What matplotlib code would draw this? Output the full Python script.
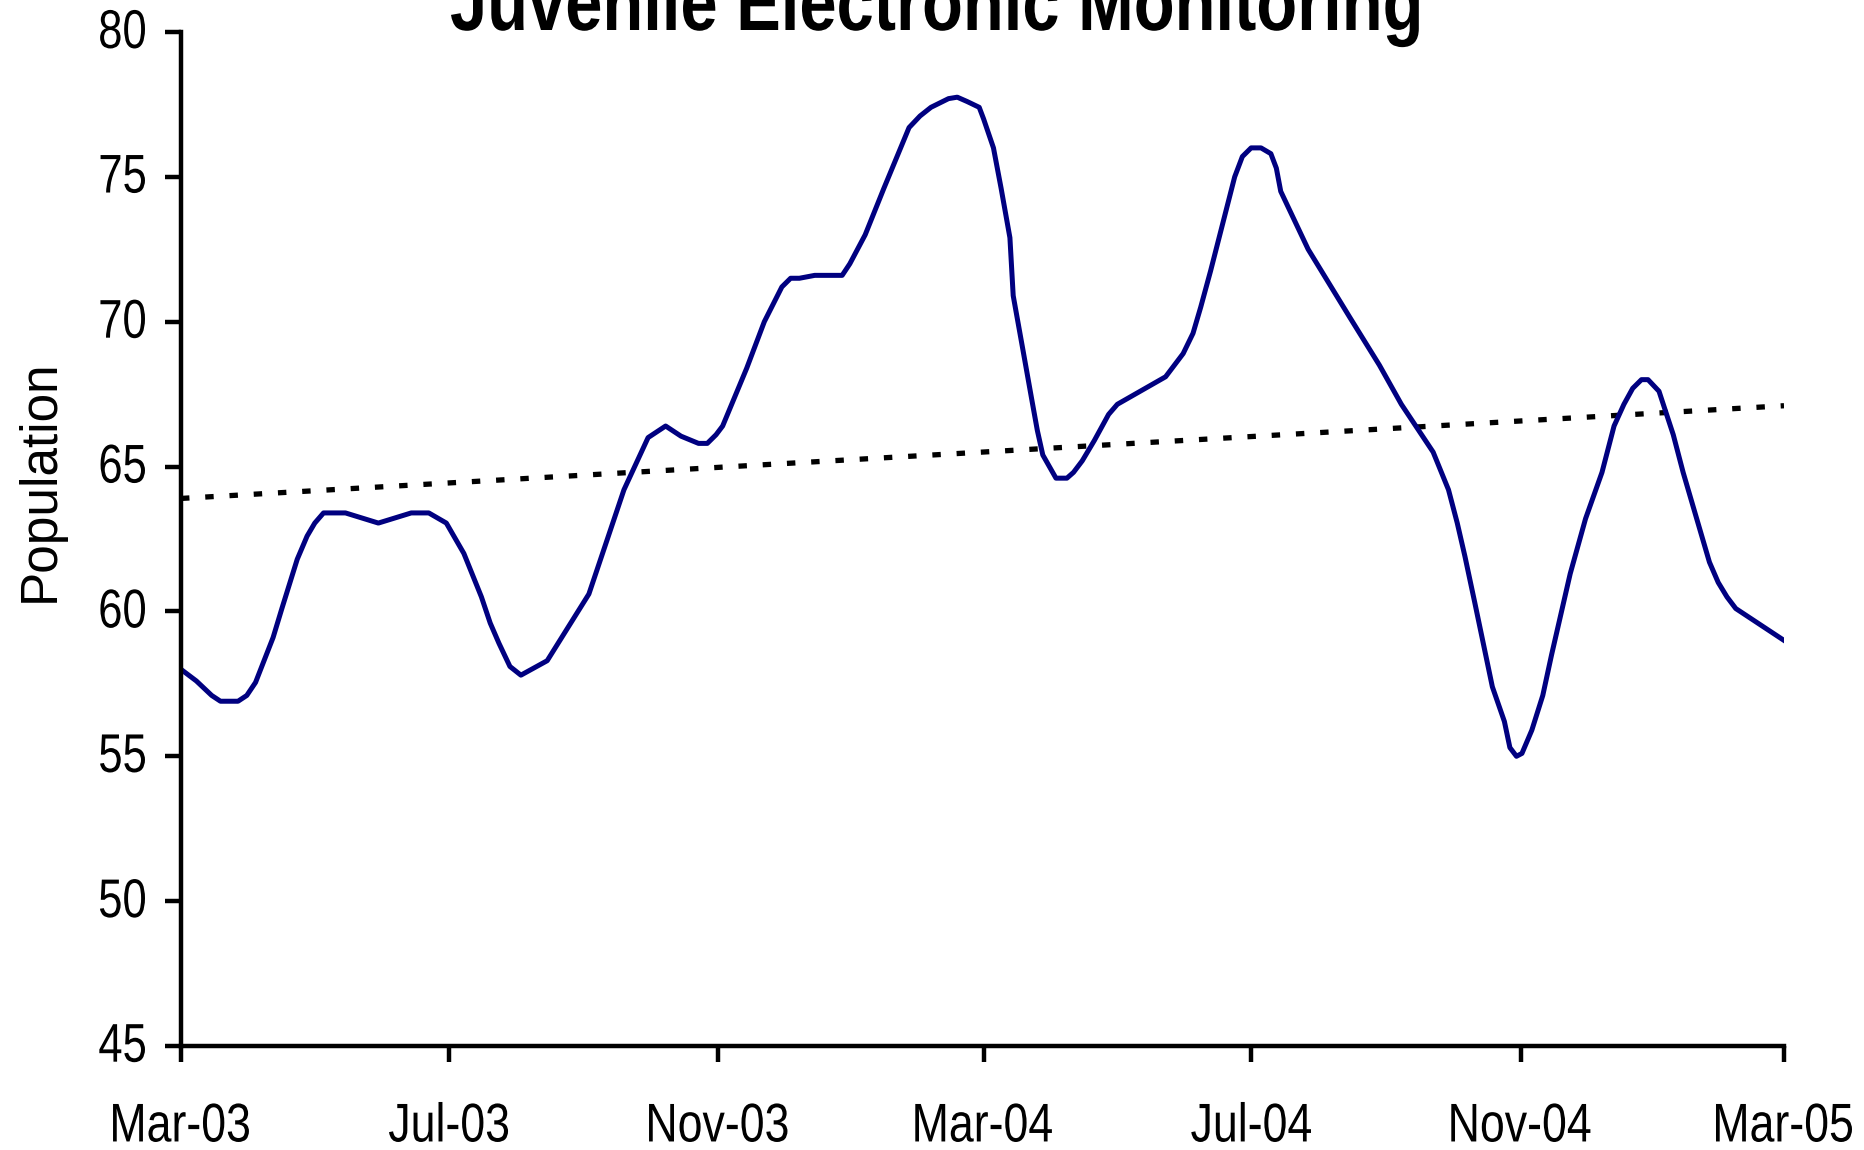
import numpy as np
import matplotlib
matplotlib.use("Agg")
import matplotlib.pyplot as plt
import matplotlib.dates as mdates
from matplotlib.font_manager import FontProperties
from matplotlib.textpath import TextPath
from matplotlib.patches import PathPatch
from matplotlib.transforms import Affine2D

# days since 1 Mar 2003
days = [0, 7, 14, 18, 26, 30, 34, 42, 46, 53, 57.5, 61, 65, 75, 90, 105, 113, 121,
        129, 137, 141, 145, 150, 155, 167, 186, 202, 213, 221, 225, 228, 236, 240,
        244, 247, 258, 266, 274, 278, 282, 289, 301.5, 305, 312, 320.5, 332, 337,
        342, 350, 354, 358.5, 364, 366, 370.5, 374, 378, 379.5, 384, 388, 390.5,
        393, 396, 399, 404, 407, 411, 416.5, 423, 427, 449, 453, 457, 461.5, 465,
        469.5, 480.5, 484, 488, 492.5, 497, 499.5, 501.5, 514, 533, 546.5, 556.5,
        571, 578, 582, 585.5, 590, 598, 603.5, 606, 609, 611.5, 616, 621, 625,
        633.5, 640.5, 648, 653.5, 658, 662, 666, 669, 674, 680.5, 685, 697, 701,
        705, 709, 731]
population = [58.0, 57.6, 57.1, 56.9, 56.9, 57.1, 57.55, 59.1, 60.1, 61.8, 62.6,
              63.05, 63.4, 63.4, 63.05, 63.4, 63.4, 63.05, 62.0, 60.5, 59.6, 58.9,
              58.1, 57.8, 58.3, 60.6, 64.2, 66.0, 66.4, 66.2, 66.05, 65.8, 65.8,
              66.1, 66.4, 68.4, 70.0, 71.2, 71.5, 71.5, 71.6, 71.6, 72.0, 73.0,
              74.6, 76.7, 77.1, 77.4, 77.7, 77.75, 77.6, 77.4, 77.0, 76.0, 74.6,
              72.9, 70.9, 69.0, 67.3, 66.25, 65.4, 65.0, 64.6, 64.6, 64.8, 65.2,
              65.9, 66.8, 67.15, 68.1, 68.5, 68.9, 69.6, 70.5, 71.75, 75.0, 75.7,
              76.0, 76.0, 75.8, 75.3, 74.5, 72.5, 70.15, 68.5, 67.15, 65.5, 64.2,
              63.05, 61.9, 60.3, 57.4, 56.2, 55.3, 55.0, 55.1, 55.9, 57.1, 58.5,
              61.3, 63.2, 64.8, 66.4, 67.15, 67.7, 68.0, 68.0, 67.6, 66.1, 64.8,
              61.7, 61.0, 60.5, 60.1, 59.0]

trend_days = [0, 731]
trend_vals = [63.9, 67.1]

xtick_dates = ["2003-03-01", "2003-07-01", "2003-11-01", "2004-03-01",
               "2004-07-01", "2004-11-01", "2005-03-01"]
xtick_labels = ["Mar-03", "Jul-03", "Nov-03", "Mar-04", "Jul-04", "Nov-04", "Mar-05"]
yticks = [45, 50, 55, 60, 65, 70, 75, 80]

start = mdates.datestr2num("2003-03-01")
x = start + np.array(days)
xt = start + np.array(trend_days)
xtick_pos = [mdates.datestr2num(d) for d in xtick_dates]

W, H = 1864, 1150
fig = plt.figure(figsize=(W / 100, H / 100), dpi=100)
ax = fig.add_axes([181 / W, 1 - 1046 / H, 1603 / W, 1014 / H])

ax.plot(xt, trend_vals, color="black", lw=3.8, ls=(0, (1.6, 3.0)))
ax.plot(x, population, color="#000080", lw=3.6)

ax.set_xlim(start, start + 731)
ax.set_ylim(45, 80)
ax.set_yticks(yticks)
ax.set_xticks(xtick_pos)

for s in ["top", "right"]:
    ax.spines[s].set_visible(False)
for s in ["left", "bottom"]:
    ax.spines[s].set_linewidth(3.2)

ax.tick_params(axis="both", direction="out", length=11.5, width=3.2,
               labelbottom=False, labelleft=False)

ax.set_ylabel("Population", fontsize=37, family="Liberation Sans")
ax.yaxis.set_label_coords(-0.0724, 0.558)


# the reference uses a narrow face; squeeze Liberation Sans horizontally
def narrow_text(s, px, py, em, sx=None, width=None, ha="center", va="center", bold=False):
    fp = FontProperties(family="Liberation Sans", weight="bold" if bold else "normal")
    tp = TextPath((0, 0), s, size=em, prop=fp)
    bb = tp.get_extents()
    if width is not None:
        sx = width / bb.width
    if ha == "center":
        dx = px - (bb.x0 + bb.x1) / 2 * sx
    else:
        dx = px - bb.x1 * sx
    if va == "center":
        dy = py - (bb.y0 + bb.y1) / 2
    elif va == "bottom":
        dy = py - bb.y0
    else:
        dy = py
    tr = Affine2D().scale(sx, 1).translate(dx, dy)
    fig.add_artist(PathPatch(tp, transform=tr, fc="black", ec="none", lw=0))


for v in yticks:
    _, ty = ax.transData.transform((start, v))
    narrow_text(str(v), 145, ty + 2.8, 54.5, sx=0.8, ha="right", va="center")

for pos, lab in zip(xtick_pos, xtick_labels):
    tx, _ = ax.transData.transform((pos, 45))
    narrow_text(lab, tx, H - 1142, 54.5, sx=0.82, ha="center", va="bottom")

narrow_text("Juvenile Electronic Monitoring", 935, H - 30, 81, width=968,
            ha="center", va="baseline", bold=True)

fig.savefig("out.png", dpi=100)
